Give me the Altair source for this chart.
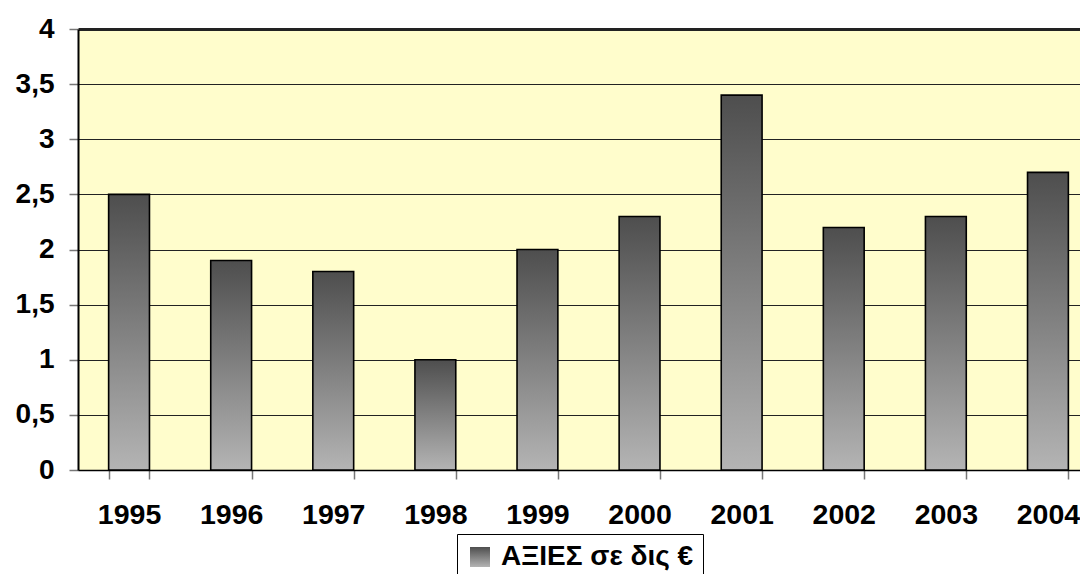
import altair as alt
import pandas as pd

years = ["1995", "1996", "1997", "1998", "1999", "2000", "2001", "2002", "2003", "2004"]
values = [2.5, 1.9, 1.8, 1.0, 2.0, 2.3, 3.4, 2.2, 2.3, 2.7]
series_name = "ΑΞΙΕΣ σε δις €"
y_ticks = [0, 0.5, 1, 1.5, 2, 2.5, 3, 3.5, 4]

df = pd.DataFrame({"year": years, "value": values, "series": [series_name] * len(years)})

FONT = "Liberation Sans"
grad = {
    "gradient": "linear", "x1": 0, "y1": 0, "x2": 0, "y2": 1,
    "stops": [{"offset": 0, "color": "#4e4e4e"}, {"offset": 1, "color": "#b4b4b4"}],
}

bars = alt.Chart(df).mark_bar(
    fill=grad, stroke="black", strokeWidth=1.6
).encode(
    x=alt.X("year:N", sort=years, title=None,
            scale=alt.Scale(range=[0, 1021], paddingInner=0.6, paddingOuter=0.3),
            axis=alt.Axis(labelAngle=0, labelFont=FONT, labelFontSize=28.5, labelFontWeight="bold",
                          labelColor="black", labelPadding=21, tickBand="extent", tickSize=9,
                          tickColor="#777", tickWidth=1.5, domainColor="black", domainWidth=1.5,
                          grid=False)),
    y=alt.Y("value:Q", title=None,
            scale=alt.Scale(domain=[0, 4], nice=False),
            axis=alt.Axis(values=y_ticks, labelExpr="replace(toString(datum.value), '.', ',')",
                          labelFont=FONT, labelFontSize=28, labelFontWeight="bold", labelColor="black",
                          labelPadding=15, tickSize=9, tickColor="#777", tickWidth=1.5,
                          domainColor="black", domainWidth=2, grid=True, gridColor="#222",
                          gridWidth={"condition": {"test": "datum.value == 4", "value": 3}, "value": 1.2})),
    opacity=alt.Opacity("series:N", title=None,
                    scale=alt.Scale(range=[1]),
                    legend=alt.Legend(orient="none", legendX=379, legendY=505,
                                      labelFont=FONT, labelFontSize=28, labelFontWeight="bold",
                                      labelColor="black", labelLimit=400, symbolType="square", symbolSize=400,
                                      symbolStrokeColor="black", symbolStrokeWidth=1,
                                      symbolFillColor={"expr": "{gradient:'linear', x1:0, y1:0, x2:0, y2:1, stops:[{offset:0, color:'#4e4e4e'}, {offset:1, color:'#c8c8c8'}]}"},
                                      strokeColor="black", padding=9, labelOffset=7,
                                      fillColor="white")),
)

chart = bars.properties(
    width=1002, height=441,
    autosize=alt.AutoSizeParams(type="none"),
    padding={"left": 70, "top": 21, "right": 0, "bottom": 104},
    background="white",
).configure_view(fill="#FFFDCC", stroke=None)

chart.save("out.html", embed_options={"renderer": "svg", "actions": False})
